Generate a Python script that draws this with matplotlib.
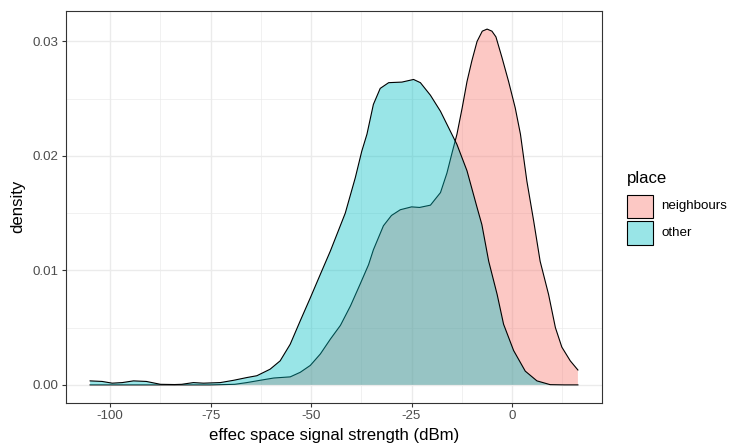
import matplotlib
matplotlib.use("Agg")
import matplotlib.pyplot as plt
from matplotlib.patches import Rectangle

plt.rcParams['font.family'] = ['Liberation Sans', 'DejaVu Sans']

# ---- data ----
places = ["neighbours", "other"]
fill_colors = ["#F8766D", "#00BFC4"]

x_neighbours = [-105, -95, -85, -75, -69, -66, -62.7, -59.3, -55.2, -52.7, -50.2, -47.7,
                -45.2, -42.7, -40.2, -37.8, -35.7, -34.5, -32.0, -30.0, -27.8, -25.0,
                -23.0, -20.3, -17.8, -16.2, -14.9, -13.7, -12.4, -11.2, -10.0, -8.7,
                -7.4, -6.2, -5.0, -4.0, -2.5, -0.85, 0.8, 2.1, 3.7, 5.4, 7.0, 9.1,
                10.8, 12.4, 14.5, 16.4]
d_neighbours = [0, 0, 0, 0, 0.00005, 0.0002, 0.0004, 0.0006, 0.0007, 0.0011, 0.0017, 0.0027,
                0.0040, 0.0052, 0.0069, 0.0088, 0.0105, 0.0118, 0.0139, 0.0148, 0.0153, 0.01555,
                0.0155, 0.0157, 0.0168, 0.0185, 0.0203, 0.0219, 0.0242, 0.0265, 0.0283, 0.0300,
                0.0309, 0.03108, 0.0309, 0.0304, 0.0286, 0.0265, 0.0242, 0.0219, 0.0178, 0.0143,
                0.0108, 0.0079, 0.0050, 0.0033, 0.0021, 0.0013]

x_other = [-105, -102, -99.5, -97, -94.2, -91, -87.5, -84, -82.2, -79.3, -76.8, -72.6,
           -69.3, -66, -63.5, -60.2, -57.7, -55.2, -52.7, -50.2, -47.7, -45.2, -41.5,
           -39.0, -37.4, -36.1, -34.5, -32.8, -30.7, -27.4, -24.5, -22.8, -20.3, -17.8,
           -15.4, -13.7, -11.2, -8.7, -7.5, -5.8, -3.7, -2.1, 0.4, 3.3, 6.2, 9.5, 13.0, 16.4]
d_other = [0.00035, 0.0003, 0.00015, 0.0002, 0.00035, 0.0003, 0.00005, 0.00003, 0.00005,
           0.0002, 0.00015, 0.0002, 0.0004, 0.00064, 0.0008, 0.00137, 0.0021, 0.00355,
           0.0056, 0.0076, 0.00966, 0.0117, 0.0150, 0.0181, 0.0204, 0.0219, 0.0245, 0.0259,
           0.0264, 0.02645, 0.02668, 0.0264, 0.0253, 0.0239, 0.0222, 0.0210, 0.0187, 0.0155,
           0.0140, 0.0108, 0.0079, 0.0053, 0.0030, 0.0012, 0.00035, 0.00002, 0, 0]

x_ticks = [-100, -75, -50, -25, 0]
x_minor = [-87.5, -62.5, -37.5, -12.5, 12.5]
y_ticks = [0.00, 0.01, 0.02, 0.03]
y_tick_labels = ["0.00", "0.01", "0.02", "0.03"]
y_minor = [0.005, 0.015, 0.025]

W, H = 735, 446
fig = plt.figure(figsize=(W / 100, H / 100), dpi=100)
fig.patch.set_facecolor("white")

def fx(px):
    return px / W

def fy(py):
    return 1 - py / H

ax = fig.add_axes([fx(65.7), fy(402.7), fx(602.3) - fx(65.7), fy(10.7) - fy(402.7)])

series = [(x_neighbours, d_neighbours), (x_other, d_other)]
for (xs, ds), col in zip(series, fill_colors):
    ax.fill_between(xs, 0, ds, facecolor=col, alpha=0.4, linewidth=0, zorder=2)
    ax.plot(xs, ds, color="black", linewidth=0.8, zorder=2, solid_joinstyle="round")

xmin, xmax = -105.0, 16.4
span = xmax - xmin
ax.set_xlim(xmin - 0.05 * span, xmax + 0.05 * span)
ymaxd = 0.03113
ax.set_ylim(-0.05 * ymaxd, ymaxd * 1.05)

ax.set_xticks(x_ticks)
ax.set_xticklabels([str(t) for t in x_ticks])
ax.set_yticks(y_ticks)
ax.set_yticklabels(y_tick_labels)
ax.set_xticks(x_minor, minor=True)
ax.set_yticks(y_minor, minor=True)

ax.grid(which="major", color="#EBEBEB", linewidth=1.0, zorder=0)
ax.grid(which="minor", color="#EBEBEB", linewidth=0.5, zorder=0)
ax.set_axisbelow(True)

ax.tick_params(which="major", length=2.9, width=0.8, color="#333333",
               labelsize=9.6, labelcolor="#4D4D4D", pad=2.4)
ax.tick_params(which="minor", length=0)
for s in ax.spines.values():
    s.set_color("#333333")
    s.set_linewidth(0.8)
    s.set_zorder(5)

ax.set_xlabel("effec space signal strength (dBm)", fontsize=12.1, color="black", labelpad=4.5)
ax.set_ylabel("density", fontsize=12.1, color="black", labelpad=5)

# legend (drawn manually)
fig.text(fx(627), fy(183), "place", fontsize=12.1, color="black", ha="left", va="baseline")
key_tops = [194.5, 221.0]
key_h = 23.5
for top, col, lab in zip(key_tops, fill_colors, places):
    fig.patches.append(Rectangle((fx(627), fy(top + key_h)), fx(653) - fx(627),
                                 fy(top) - fy(top + key_h), transform=fig.transFigure,
                                 facecolor="white", edgecolor="none", zorder=1))
    fig.patches.append(Rectangle((fx(627), fy(top + key_h)), fx(653) - fx(627),
                                 fy(top) - fy(top + key_h), transform=fig.transFigure,
                                 facecolor=(*matplotlib.colors.to_rgb(col), 0.4),
                                 edgecolor="black", linewidth=0.8, zorder=2))
    fig.text(fx(661.5), fy(top + key_h / 2), lab, fontsize=9.6, color="black",
             ha="left", va="center")

fig.savefig("out.png", dpi=100, facecolor="white")
